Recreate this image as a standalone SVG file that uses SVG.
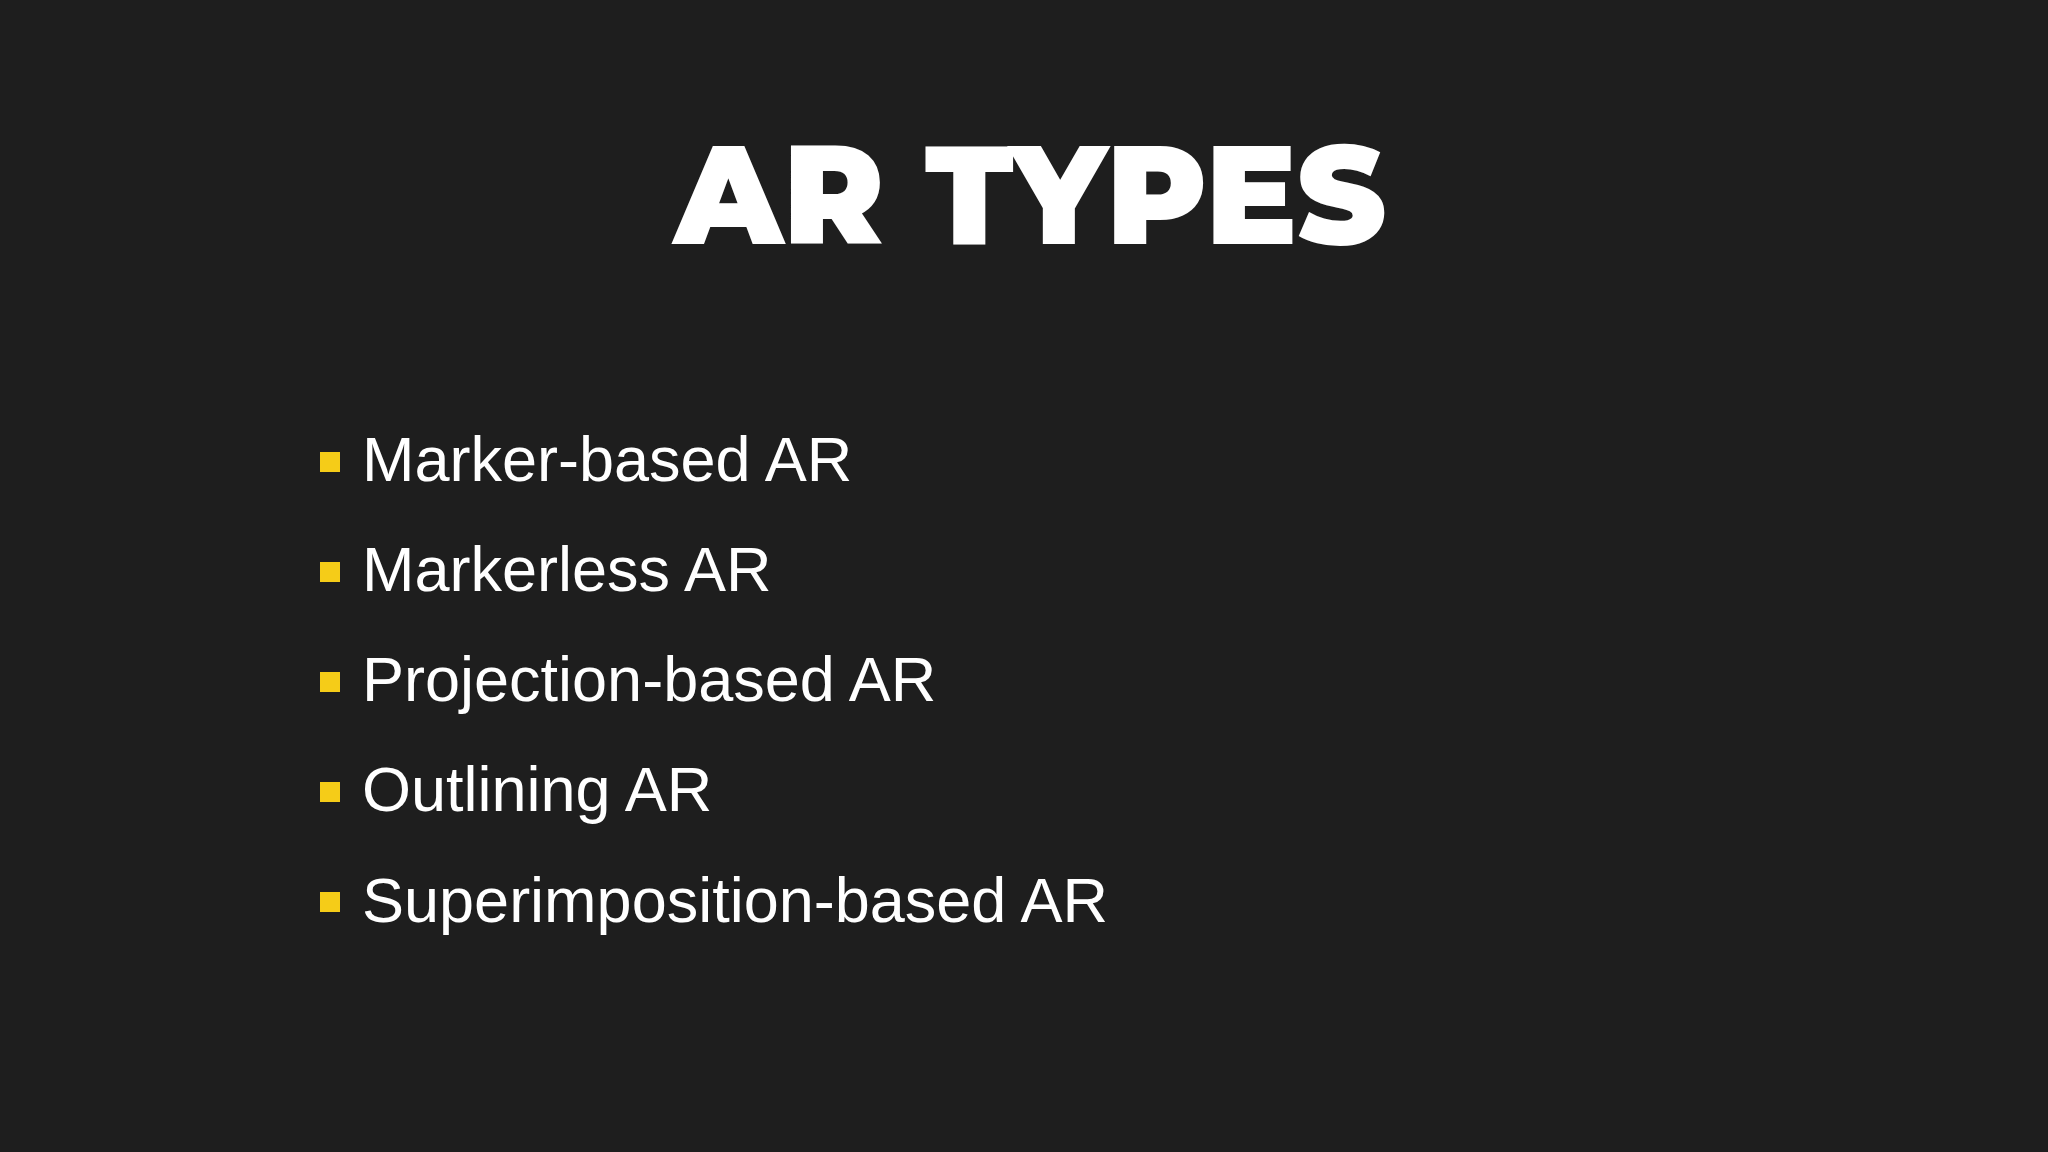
<svg xmlns="http://www.w3.org/2000/svg" width="2048" height="1152" viewBox="0 0 2048 1152">
<style>
.t{font-family:"Liberation Sans",Arial,sans-serif;font-size:63px;fill:#ffffff}
.b{fill:#f5cc18}
</style>
<rect width="2048" height="1152" fill="#1e1e1e"/>
<text id="title" x="1030" y="244" text-anchor="middle" font-family="Montserrat,'Liberation Sans',Arial,sans-serif" font-weight="900" font-size="140" fill="#ffffff" textLength="712" lengthAdjust="spacingAndGlyphs">AR TYPES</text>
<g id="item1"><rect class="b" x="320" y="452" width="20" height="20"/><text class="t" x="362" y="481">Marker-based AR</text></g>
<g id="item2"><rect class="b" x="320" y="562" width="20" height="20"/><text class="t" x="362" y="591">Markerless AR</text></g>
<g id="item3"><rect class="b" x="320" y="672" width="20" height="20"/><text class="t" x="362" y="701">Projection-based AR</text></g>
<g id="item4"><rect class="b" x="320" y="782" width="20" height="20"/><text class="t" x="362" y="811">Outlining AR</text></g>
<g id="item5"><rect class="b" x="320" y="892" width="20" height="20"/><text class="t" x="362" y="922">Superimposition-based AR</text></g>
</svg>
